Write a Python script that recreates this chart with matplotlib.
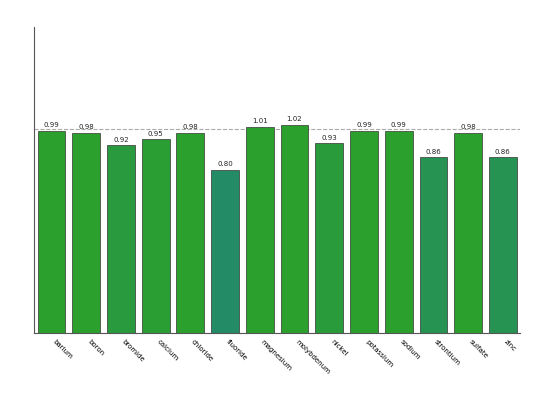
import numpy as np
import matplotlib
matplotlib.use("Agg")
import matplotlib.pyplot as plt
from matplotlib.colors import to_rgb

elements = ["barium", "boron", "bromide", "calcium", "chloride", "fluoride",
            "magnesium", "molybdenum", "nickel", "potassium", "sodium",
            "strontium", "sulfate", "zinc"]
ratios = [0.99, 0.98, 0.92, 0.95, 0.98, 0.80, 1.01, 1.02, 0.93, 0.99, 0.99,
          0.86, 0.98, 0.86]

# bars shade from green to teal as the ratio drops below 1
good = np.array(to_rgb("#2ca02c"))
low = np.array(to_rgb("#238c66"))


def bar_color(v):
    t = np.clip((0.97 - v) / 0.17, 0, 1)
    return tuple(good * (1 - t) + low * t)


fig = plt.figure(figsize=(5.33, 4.0), dpi=100)
ax = fig.add_axes([0.064, 0.168, 0.912, 0.765])

x = np.arange(len(elements))
bars = ax.bar(x, ratios, width=0.8, color=[bar_color(v) for v in ratios],
              edgecolor="#333333", linewidth=0.5)
for xi, v in zip(x, ratios):
    ax.text(xi, v + 0.012, "%.2f" % v, ha="center", va="bottom", fontsize=5,
            color="#222222")

ax.axhline(1.0, color="#aaaaaa", linestyle="--", linewidth=0.8, zorder=0)

ax.set_xlim(-0.5, len(elements) - 0.5)
ax.set_ylim(0, 1.5)
ax.set_xticks(x)
ax.set_xticklabels(elements, rotation=-45, ha="left", fontsize=5)
ax.tick_params(axis="x", length=0, pad=4)
ax.set_yticks([])
ax.spines["top"].set_visible(False)
ax.spines["right"].set_visible(False)
ax.spines["left"].set_color("#555555")
ax.spines["bottom"].set_color("#555555")

fig.savefig("out.png", dpi=100)
